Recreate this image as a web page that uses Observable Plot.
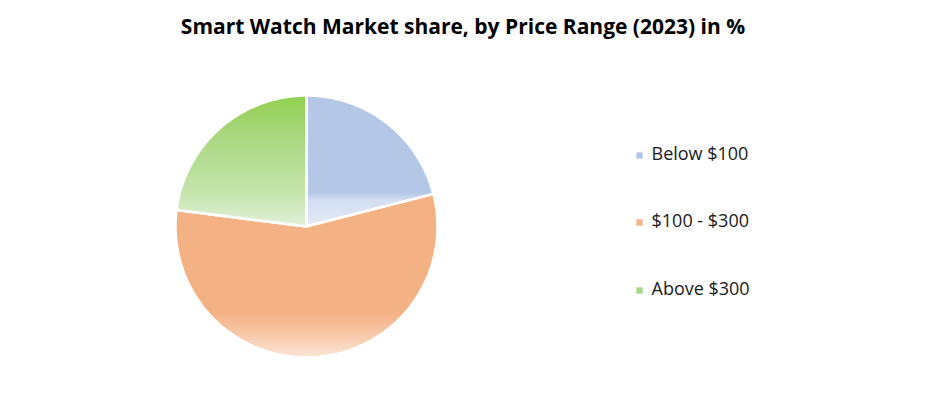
<!DOCTYPE html>
<html><head><meta charset="utf-8">
<script src="https://cdn.jsdelivr.net/npm/d3@7"></script>
<script src="https://cdn.jsdelivr.net/npm/@observablehq/plot@0.6"></script>
<style>body{margin:0;background:#fff;} svg{display:block;}</style>
</head><body><div id="chart"></div>
<script>
const title = "Smart Watch Market share, by Price Range (2023) in %";
const categories = ["Below $100", "$100 - $300", "Above $300"];
const shares = [21, 56, 23];
const colors = ["#b4c7e7", "#f4b183", "#92d050"];
const legendColors = ["#b4c7e7", "#f2b48c", "#a9d88a"];

const pie = d3.pie().sort(null).value(d => d.value)(categories.map((c, i) => ({cat: c, value: shares[i], idx: i})));
const pts = [];
pie.forEach(a => {
  const n = Math.max(2, Math.ceil((a.endAngle - a.startAngle) / 0.01));
  pts.push({cat: a.data.cat, idx: a.data.idx, x: 0, y: 0});
  for (let k = 0; k <= n; k++) {
    const t = a.startAngle + (a.endAngle - a.startAngle) * k / n;
    pts.push({cat: a.data.cat, idx: a.data.idx, x: Math.sin(t), y: Math.cos(t)});
  }
  pts.push({cat: a.data.cat, idx: a.data.idx, x: 0, y: 0});
});

const defs = () => {
  const ns = "http://www.w3.org/2000/svg";
  const d = document.createElementNS(ns, "defs");
  const specs = [
    [[0, colors[0]], [0.74, colors[0]], [0.8, "#d3def1"], [1, "#e4ebf7"]],
    [[0, colors[1]], [0.72, colors[1]], [0.85, "#f7c7a6"], [1, "#fbe5d6"]],
    [[0, colors[2]], [0.35, "#acd985"], [0.75, "#c6e5ad"], [1, "#e2f0d9"]]
  ];
  specs.forEach((s, i) => {
    const g = document.createElementNS(ns, "linearGradient");
    g.setAttribute("id", "grad" + i);
    g.setAttribute("x1", "0"); g.setAttribute("x2", "0");
    g.setAttribute("y1", "0"); g.setAttribute("y2", "1");
    s.forEach(([o, c]) => {
      const st = document.createElementNS(ns, "stop");
      st.setAttribute("offset", o); st.setAttribute("stop-color", c);
      g.appendChild(st);
    });
    d.appendChild(g);
  });
  return d;
};

const cx = 306, cy = 226, r = 131;
const legendY = [155, 222, 290];

const marks = [defs];
categories.forEach((c, i) => {
  marks.push(Plot.line(pts.filter(p => p.idx === i), {x: "x", y: "y", fill: `url(#grad${i})`, stroke: "white", strokeWidth: 2.5, strokeLinejoin: "round", curve: "linear"}));
});
marks.push(Plot.text([title], {frameAnchor: "top", dx: 0, dy: 19, fontSize: 21, fontWeight: "bold", fill: "#000", fontFamily: "Open Sans"}));
categories.forEach((c, i) => {
  marks.push(Plot.dot([c], {frameAnchor: "top-left", dx: 639, dy: legendY[i], symbol: "square", r: 3.6, fill: legendColors[i], stroke: null}));
  marks.push(Plot.text([c], {frameAnchor: "top-left", dx: 651, dy: legendY[i] - 8, textAnchor: "start", fontSize: 18, fill: "#1a1a1a", fontFamily: "Open Sans"}));
});

const chart = Plot.plot({
  width: 925, height: 407,
  margin: 0,
  x: {domain: [-1, 1], range: [cx - r, cx + r], axis: null},
  y: {domain: [-1, 1], range: [cy + r, cy - r], axis: null},
  style: {background: "#fff"},
  marks
});
document.getElementById("chart").appendChild(chart);
</script>
</body></html>
